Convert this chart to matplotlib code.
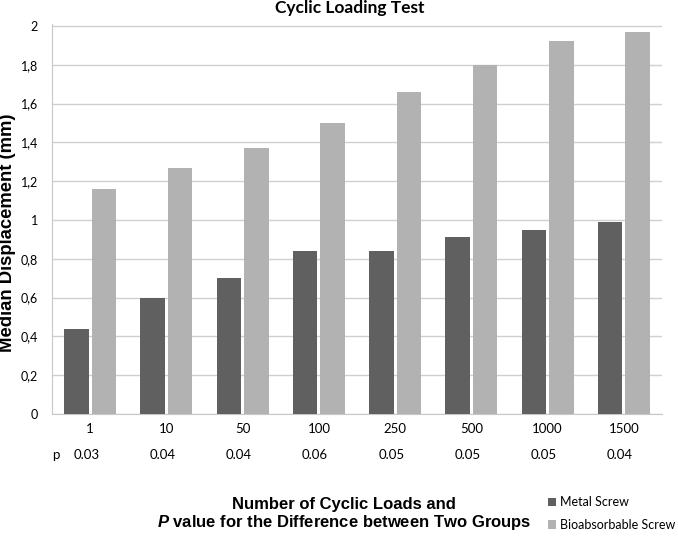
import matplotlib.pyplot as plt
import numpy as np

# data
loads = ["1", "10", "50", "100", "250", "500", "1000", "1500"]
p_values = ["0.03", "0.04", "0.04", "0.06", "0.05", "0.05", "0.05", "0.04"]
metal = [0.44, 0.60, 0.70, 0.84, 0.84, 0.91, 0.95, 0.99]
bioabs = [1.16, 1.27, 1.37, 1.50, 1.66, 1.80, 1.92, 1.97]
y_ticks = [0, 0.2, 0.4, 0.6, 0.8, 1.0, 1.2, 1.4, 1.6, 1.8, 2.0]

plt.rcParams["font.family"] = ["Lato", "DejaVu Sans"]
plt.rcParams["mathtext.fontset"] = "custom"
plt.rcParams["mathtext.bfit"] = "Liberation Sans:bold:italic"
arial = ["Liberation Sans", "DejaVu Sans"]

fig = plt.figure(figsize=(6.78, 5.36), dpi=100)
ax = fig.add_axes([52 / 678, 1 - 414 / 536, 610 / 678, 390 / 536])

x = np.arange(len(loads))
w = 0.32
ax.bar(x - w / 2 - 0.02, metal, width=w, color="#606060", label="Metal Screw", zorder=3)
ax.bar(x + w / 2 + 0.02, bioabs, width=w, color="#b2b2b2", label="Bioabsorbable Screw", zorder=3)

ax.set_xlim(-0.5, len(loads) - 0.5)
ax.set_ylim(0, 2.01)
ax.set_yticks(y_ticks)
ax.set_yticklabels([("%g" % v).replace(".", ",") for v in y_ticks], fontsize=9)
ax.yaxis.grid(True, color="#d0d0d0", linewidth=1, zorder=0)
ax.tick_params(axis="y", length=0, pad=10)
ax.tick_params(axis="x", length=0)
ax.set_xticks(x)
ax.set_xticklabels([])

for s in ["top", "right"]:
    ax.spines[s].set_visible(False)
ax.spines["left"].set_color("#c8c8c8")
ax.spines["bottom"].set_color("#c8c8c8")

# category labels and p values below the axis
for i in range(len(loads)):
    ax.text(x[i], -0.075, loads[i], ha="center", va="center", fontsize=9.5)
    ax.text(x[i] - 0.05, -0.21, p_values[i], ha="center", va="center", fontsize=9.5)
ax.text(-0.45, -0.21, "p", ha="center", va="center", fontsize=9.5)

fig.text(350 / 678, 1 - 8 / 536, "Cyclic Loading Test", ha="center", va="center",
         fontsize=12.5, fontweight="bold")

fig.text(8 / 678, 1 - 233 / 536, "Median Displacement (mm)", rotation=90,
         ha="center", va="center", fontsize=13.3, fontweight="bold", family=arial)

fig.text(344 / 678, 1 - 504 / 536, "Number of Cyclic Loads and", ha="center", va="center",
         fontsize=12, fontweight="bold", family=arial)
fig.text(344 / 678, 1 - 523 / 536, r"$\bfit{P}$ value for the Difference between Two Groups",
         ha="center", va="center", fontsize=12, fontweight="bold", family=arial)

fig.legend(loc="center left", bbox_to_anchor=(548 / 678, 1 - 513.5 / 536), frameon=False,
           fontsize=9, handlelength=0.65, handleheight=0.65, handletextpad=0.3,
           labelspacing=0.85, borderaxespad=0, borderpad=0)

plt.savefig("out.png", dpi=100)
